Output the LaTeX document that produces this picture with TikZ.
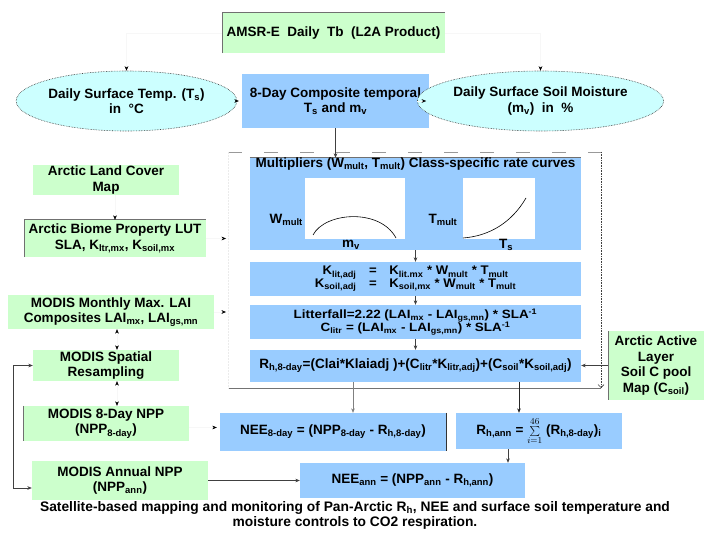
\documentclass[tikz,border=0pt]{standalone}
\usepackage{fontspec}
\setmainfont{Liberation Sans}
\usepackage{graphicx}
\usetikzlibrary{arrows.meta,shapes.geometric}
\definecolor{boxgreen}{HTML}{CCFFCC}
\definecolor{boxblue}{HTML}{99CCFF}
\definecolor{ellcyan}{HTML}{CCFFFF}
\definecolor{edgegray}{HTML}{707070}
\newcommand{\sbs}[1]{\textsubscript{#1}}
\newcommand{\sps}[1]{\textsuperscript{#1}}
\newcommand{\sx}[2]{\scalebox{#1}[1]{#2}}
\begin{document}
\begin{tikzpicture}[x=1pt,y=-1pt,
  every node/.style={font=\fontsize{13.5}{15.5}\selectfont\bfseries, inner sep=0pt, align=center},
  gbox/.style={fill=boxgreen},
  bbox/.style={fill=boxblue},
  ell/.style={ellipse, fill=ellcyan, draw=black!80, densely dotted, line width=0.6pt},
  conn/.style={draw=black!75, line width=0.6pt, -{Stealth[length=4.5pt,width=3.6pt]}},
  faint/.style={draw=black!3, line width=0.4pt, -{Stealth[length=4.5pt,width=3.6pt,color=black]}},
  dblarr/.style={draw=black!3, line width=0.4pt, {Stealth[length=4.5pt,width=3.6pt,color=black]}-{Stealth[length=4.5pt,width=3.6pt,color=black]}},
]
\fill[white] (0,0) rectangle (720,540);
\useasboundingbox (0,0) rectangle (720,540);

% top row
\node[gbox, minimum width=223, minimum height=40] (amsr) at (333.5,33) {AMSR-E\ \ Daily\ \ Tb\ \ (L2A Product)};
\draw[edgegray, line width=0.6pt] (amsr.south west) -- (amsr.north west) -- (amsr.north east);
\node[bbox, minimum width=187, minimum height=54] (comp) at (335.5,101) {8-Day Composite temporal\\T\sbs{s} and m\sbs{v}};
\node[ell, minimum width=187, minimum height=60] (ellL) at (126.5,101) {Daily Surface Temp. (T\sbs{s})\\in\ \ °C};
\node[ell, minimum width=185, minimum height=60] (ellR) at (540.5,101) {Daily Surface Soil Moisture\\(m\sbs{v})\ \ in\ \ \%};

% left column
\node[gbox, minimum width=146, minimum height=30] (land) at (106,180) {Arctic Land Cover\\Map};
\node[gbox, minimum width=182, minimum height=37] (biome) at (115,238.5) {Arctic Biome Property LUT\\SLA, K\sbs{ltr,mx}, K\sbs{soil,mx}};
\draw[edgegray, line width=0.6pt] (biome.south west) -- (biome.north west) -- (biome.north east);
\node[gbox, minimum width=206, minimum height=34] (monthly) at (111,312) {MODIS Monthly Max. LAI\\Composites LAI\sbs{mx}, LAI\sbs{gs,mn}};
\node[gbox, minimum width=146, minimum height=31] (spatial) at (106,365.5) {MODIS Spatial\\Resampling};
\node[gbox, minimum width=166, minimum height=35] (npp8) at (106,423.5) {MODIS 8-Day NPP\\(NPP\sbs{8-day})};
\draw[edgegray, line width=0.5pt] (npp8.north west) -- (npp8.south west);
\node[gbox, minimum width=176, minimum height=39] (nppann) at (120,480.5) {MODIS Annual NPP\\(NPP\sbs{ann})};

% model boxes
\node[bbox, minimum width=331, minimum height=92] (mult) at (415.5,204) {};
\draw[edgegray, line width=0.6pt] (mult.north west) -- (mult.north east);
\node[fill=white, minimum width=100, minimum height=61] (plotW) at (355,208.5) {};
\node[fill=white, minimum width=72, minimum height=61] (plotT) at (499,208.5) {};
\node (multtitle) at (415.5,164) {Multipliers (W\sbs{mult}, T\sbs{mult}) Class-specific rate curves};
\node[anchor=east] (wlab) at (303,220) {W\sbs{mult}};
\node (tlab) at (443,220) {T\sbs{mult}};
\node (mvlab) at (351,245) {m\sbs{v}};
\node (tslab) at (506,245) {T\sbs{s}};
\draw[line width=0.6pt] (313,235) .. controls (325,212) and (380,208) .. (396,238);
\draw[line width=0.6pt] (463,238) .. controls (490,236) and (512,222) .. (526,198);

\node[bbox, minimum width=331, minimum height=34] (kbox) at (415.5,279) {\sx{1.05}{\fontsize{12.5}{12}\selectfont\begin{tabular}{@{}r@{\hspace{12pt}=\hspace{12pt}}l@{}}K\sbs{lit,adj} & K\sbs{lit.mx} * W\sbs{mult} * T\sbs{mult}\\K\sbs{soil,adj} & K\sbs{soil,mx} * W\sbs{mult} * T\sbs{mult}\end{tabular}}};
\node[bbox, minimum width=331, minimum height=34] (litter) at (415.5,322) {\sx{1.12}{\fontsize{12}{11.5}\selectfont\begin{tabular}{@{}c@{}}Litterfall=2.22 (LAI\sbs{mx} - LAI\sbs{gs,mn}) * SLA\sps{-1}\\C\sbs{litr} = (LAI\sbs{mx} - LAI\sbs{gs,mn}) * SLA\sps{-1}\end{tabular}}};
\node[bbox, minimum width=331, minimum height=32] (rh) at (415.5,366) {R\sbs{h,8-day}=(Clai*Klaiadj )+(C\sbs{litr}*K\sbs{litr,adj})+(C\sbs{soil}*K\sbs{soil,adj})};
\node[gbox, minimum width=96, minimum height=69] (active) at (656,365.5) {Arctic Active\\Layer\\Soil C pool\\Map (C\sbs{soil})};
\draw[edgegray, line width=0.6pt] (active.north west) -- (active.south west);

% bottom boxes
\node[bbox, minimum width=226, minimum height=38] (nee8) at (333,432) {NEE\sbs{8-day} = (NPP\sbs{8-day} - R\sbs{h,8-day})};
\draw[black!80, line width=0.7pt] (nee8.north east) -- (nee8.south east);
\node[bbox, minimum width=166, minimum height=36] (rann) at (539,431) {R\sbs{h,ann} = $\sum\limits_{i=1}^{46}$ (R\sbs{h,8-day})\sbs{i}};
\node[bbox, minimum width=225, minimum height=35] (neeann) at (412.5,480.5) {NEE\sbs{ann} = (NPP\sbs{ann} - R\sbs{h,ann})};

\node[font=\fontsize{13.8}{15}\selectfont\bfseries] (cap) at (355,515.5) {Satellite-based mapping and monitoring of Pan-Arctic R\sbs{h}, NEE and surface soil temperature and\\moisture controls to CO2 respiration.};

% frame around model
\coordinate (fNW) at (228,152);
\coordinate (fNE) at (601,152);
\coordinate (fSW) at (228,388);
\coordinate (fSE) at (601,388);
\draw[black!40, line width=0.6pt, dash pattern=on 14pt off 22pt] (fNW) -- (fNE);
\draw[black!75, line width=0.6pt, densely dotted, -{Straight Barb[length=3pt,width=6pt]}] (fNE) -- (fSE);
\draw[black!55, line width=0.6pt] (fSW) -- (fSE);
\draw[black!8, line width=0.5pt, densely dotted] (fNW) -- (fSW);

% connectors
\draw[faint] (amsr.west) -| (ellL.north);
\draw[faint] (amsr.east) -| (ellR.north);
\draw[faint, shorten >=3pt] (ellL.east) -- (comp.west);
\draw[faint, shorten >=3pt] (ellR.west) -- (comp.east);
\draw[conn] (comp.south) -- (comp.south |- mult.north);
\draw[faint] (land.south -| biome.north) -- (biome.north);
\draw[faint, shorten >=2pt] (biome.east) -- (biome.east -| fNW);
\draw[faint, shorten >=2pt] (monthly.east) -- (monthly.east -| fNW);
\draw[dblarr] ([xshift=6pt]monthly.south) -- ([xshift=11pt]spatial.north);
\draw[dblarr] ([xshift=11pt]spatial.south) -- ([xshift=11pt]npp8.north);
\draw[conn] (mult.south) -- (kbox.north);
\draw[conn] (kbox.south) -- (litter.north);
\draw[conn] (litter.south) -- (rh.north);
\draw[conn] (active.west) -- (active.west -| rh.east);
\coordinate (a1) at ([xshift=20pt]nee8.north);
\draw[conn, draw=black!50, line width=0.5pt] (rh.south -| a1) -- (a1);
\coordinate (a2) at ([xshift=-20pt]rann.north);
\draw[conn, draw=black!85] (rh.south -| a2) -- (a2);
\coordinate (a3) at ([xshift=-31pt]rann.south);
\draw[conn] (a3) -- (a3 |- neeann.north);
\draw[conn] (nppann.east) -- (nppann.east -| neeann.west);
\draw[faint, shorten >=3pt] ([yshift=-4pt]npp8.east) -- ([yshift=-4pt]npp8.east -| nee8.west);
\coordinate (fb) at (13,488);
\draw[conn] (fb) |- (spatial.west);
\draw[conn] (fb) -- ([yshift=-7.5pt]nppann.west);
\end{tikzpicture}
\end{document}
